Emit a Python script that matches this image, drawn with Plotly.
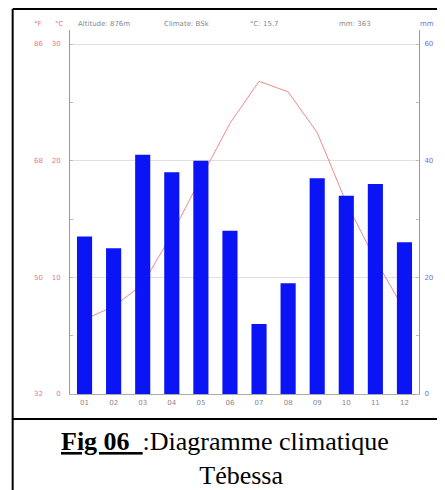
import plotly.graph_objects as go

# ---- data ----
months = ["01", "02", "03", "04", "05", "06", "07", "08", "09", "10", "11", "12"]
month_num = list(range(1, 13))
temp_c = [6.4, 7.5, 9.4, 13.7, 18.5, 23.2, 26.8, 25.9, 22.4, 16.4, 11.5, 7.2]
precip_mm = [27, 25, 41, 38, 40, 28, 12, 19, 37, 34, 36, 26]
c_ticks = [0, 10, 20, 30]
f_ticks = [32, 50, 68, 86]
mm_ticks = [0, 20, 40, 60]
header = ["Altitude: 876m", "Climate: BSk", "°C: 15.7", "mm: 363"]

# ---- geometry (pixels, page has an 8px body margin) ----
OFF = 8
W, H = 445 - OFF, 490 - OFF
L, T = 70 - OFF, 30 - OFF
R = W - (423 - OFF)
B = H - (394 - OFF)
PW, PH = W - L - R, H - T - B
y_top_c = 31.2


def px(x):
    return (x - OFF - L) / PW


def py(y):
    return (H - B - (y - OFF)) / PH


fig = go.Figure()
fig.add_trace(go.Scatter(x=month_num, y=temp_c, mode="lines",
                         line=dict(color="#f08a8a", width=1),
                         xaxis="x", yaxis="y", showlegend=False,
                         hoverinfo="skip"))
fig.add_trace(go.Bar(x=month_num, y=precip_mm, marker=dict(color="#0a14f5", line_width=0),
                     width=0.52, xaxis="x", yaxis="y2", showlegend=False))
# invisible trace to activate the °F axis
fig.add_trace(go.Scatter(x=[None], y=[None], yaxis="y3", showlegend=False))

tick_font = dict(family="DejaVu Sans", size=7)

fig.update_layout(
    width=W, height=H,
    margin=dict(l=L, r=R, t=T, b=B, pad=0),
    paper_bgcolor="white", plot_bgcolor="white",
    xaxis=dict(range=[0.5, 12.5], tickvals=month_num, ticktext=months,
               showgrid=False, zeroline=False, showline=True, linecolor="#aaa",
               linewidth=1, ticks="", tickfont=dict(tick_font, color="#888"),
               ticklabelstandoff=2),
    yaxis=dict(range=[0, y_top_c], tickvals=c_ticks, showgrid=True,
               gridcolor="#e0e0e0", gridwidth=1, zeroline=False,
               showline=True, linecolor="#999", linewidth=1, ticks="",
               minor=dict(dtick=5, ticks="inside", ticklen=3, tickcolor="#bbb", showgrid=False),
               tickfont=dict(tick_font, color="#e07a8a"), ticklabelstandoff=7),
    yaxis2=dict(range=[0, 2 * y_top_c], tickvals=mm_ticks, overlaying="y",
                side="right", showgrid=False, zeroline=False, showline=True,
                linecolor="#999", linewidth=1, ticks="",
                minor=dict(dtick=10, ticks="inside", ticklen=3, tickcolor="#bbb", showgrid=False),
                tickfont=dict(tick_font, color="#7070dd"), ticklabelstandoff=3),
    yaxis3=dict(range=[32, 32 + 1.8 * y_top_c], tickvals=f_ticks, overlaying="y",
                side="left", anchor="free", position=0, showgrid=False,
                zeroline=False, showline=False, ticks="",
                tickfont=dict(tick_font, color="#e07a8a"), ticklabelstandoff=27),
    bargap=0.5,
)

ann = []
# unit headers
ann.append(dict(x=px(38), y=py(24), text="°F", font=dict(tick_font, color="#e07a8a")))
ann.append(dict(x=px(59), y=py(24), text="°C", font=dict(tick_font, color="#e07a8a")))
ann.append(dict(x=px(431), y=py(24), text="mm", font=dict(tick_font, color="#7070dd")))
for xx, t in zip([76, 163, 250, 340], header):
    ann.append(dict(x=px(xx), y=py(24), text=t, xanchor="left",
                    font=dict(tick_font, color="#888")))
# caption (one text block, two lines)
ann.append(dict(x=px(227), y=py(458),
                text="<b><u>Fig 06&nbsp;&nbsp;</u></b>:Diagramme climatique<br>"
                     + "&nbsp;" * 5 + "Tébessa",
                align="center",
                font=dict(family="Liberation Serif", size=26, color="black")))
for a in ann:
    a.setdefault("xanchor", "center")
    a.update(xref="paper", yref="paper", yanchor="middle", showarrow=False)
fig.update_layout(annotations=ann)

# frame
line_k = dict(color="black", width=2)
fig.add_shape(type="line", xref="paper", yref="paper", x0=px(12), x1=px(446), y0=py(9), y1=py(9), line=line_k)
fig.add_shape(type="line", xref="paper", yref="paper", x0=px(12), x1=px(12), y0=py(9), y1=py(500), line=line_k)
fig.add_shape(type="line", xref="paper", yref="paper", x0=px(443), x1=px(443), y0=py(9), y1=py(500), line=line_k)
fig.add_shape(type="line", xref="paper", yref="paper", x0=px(12), x1=px(443), y0=py(419), y1=py(419), line=line_k)

fig.write_html("out.html")
